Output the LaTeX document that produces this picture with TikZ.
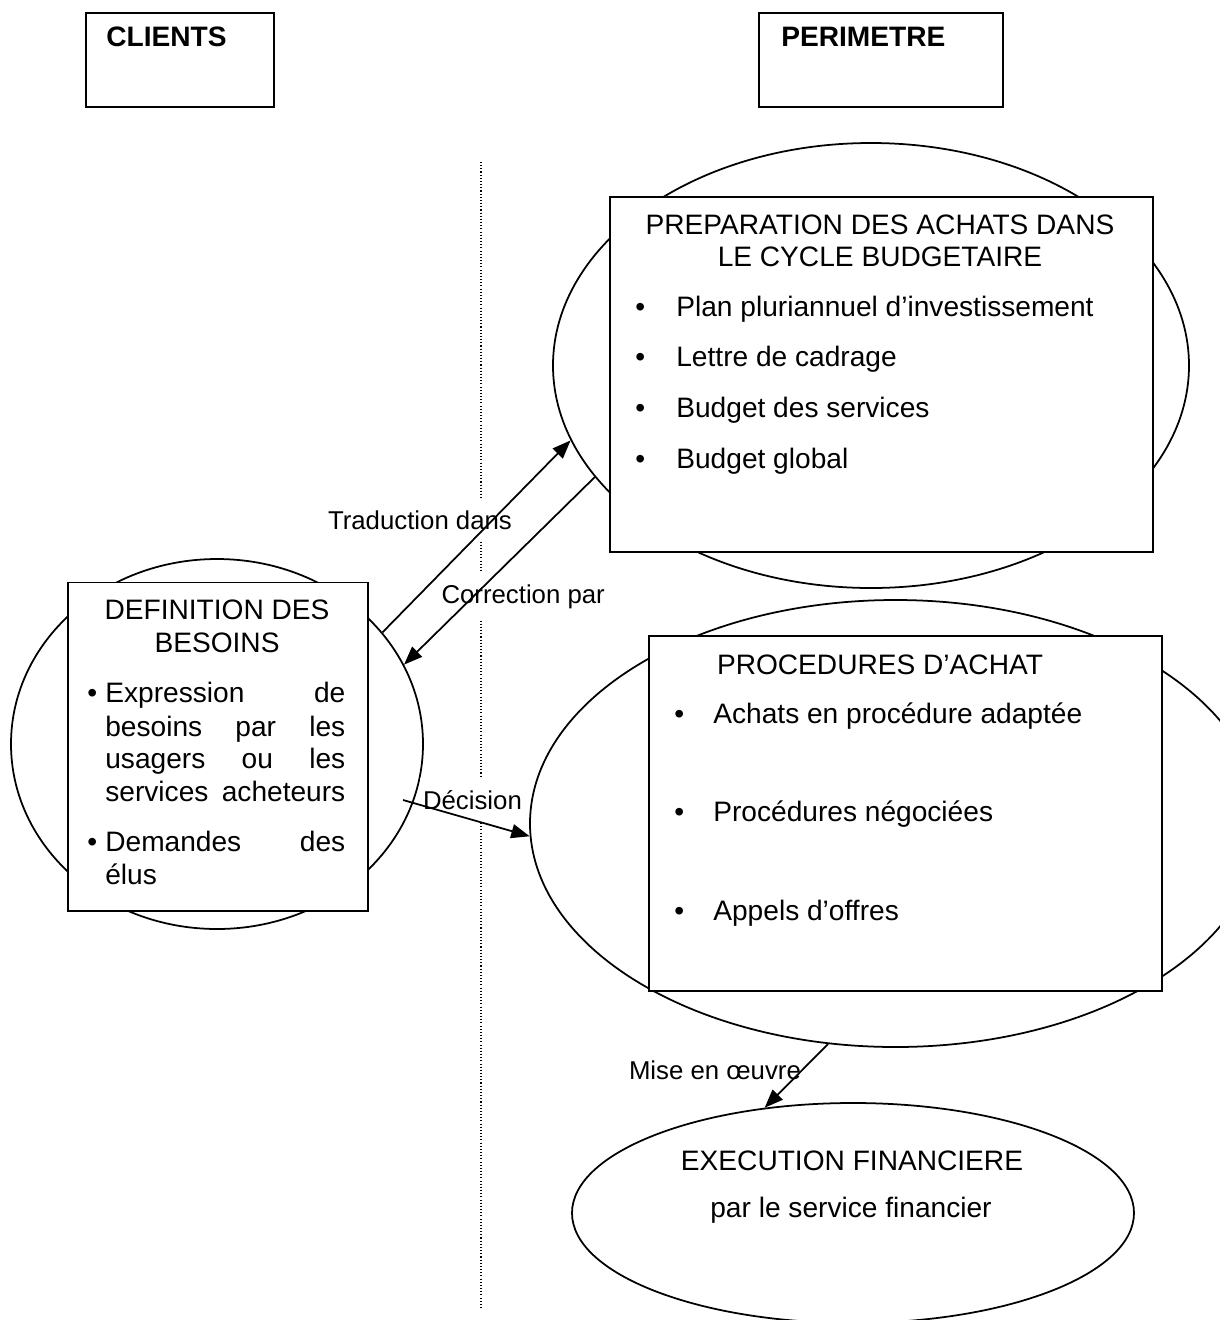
\documentclass[tikz,border=0pt]{standalone}
\usepackage{fontspec}
\setmainfont{Liberation Sans}
\usetikzlibrary{shapes.geometric,arrows.meta}

\begin{document}
\begin{tikzpicture}[
    txt/.style={font=\fontsize{16}{19}\selectfont, inner sep=0pt, anchor=base west},
    ttl/.style={font=\fontsize{16}{19}\selectfont, inner sep=0pt, anchor=base},
    lbl/.style={font=\fontsize{14.67}{17}\selectfont, fill=white, inner xsep=2pt, inner ysep=7pt, outer sep=0pt, anchor=base west},
    cadre/.style={draw, fill=white, line width=1pt, inner sep=0pt, anchor=north west},
    bulle/.style={draw, ellipse, line width=1pt, inner sep=0pt},
    fleche/.style={-{Triangle[length=10.5pt,width=8pt]}, line width=1pt}
  ]
    \useasboundingbox (0,0) rectangle (24.4,-26.4);

    % separation clients / perimetre
    \coordinate (haut) at (9.62,-3.24);
    \coordinate (bas) at (9.62,-26.2);
    \draw[line width=0.7pt, dash pattern=on 0.6pt off 1.2pt] (haut) -- (bas);

    % ellipses
    \node[bulle, minimum width=12.72cm, minimum height=8.90cm] (ellprepa) at (17.42,-7.31) {};
    \node[bulle, minimum width=8.24cm, minimum height=7.40cm] (elldefin) at (4.34,-14.88) {};
    \node[bulle, minimum width=14.62cm, minimum height=8.94cm] (ellproc) at (17.91,-16.47) {};
    \node[bulle, minimum width=11.24cm, minimum height=4.40cm] (ellexec) at (17.06,-24.26) {};

    % cadres
    \node[cadre, minimum width=3.76cm, minimum height=1.88cm] (clients) at (1.70,-0.24) {};
    \node[cadre, minimum width=4.88cm, minimum height=1.88cm] (perim) at (15.16,-0.24) {};
    \node[cadre, minimum width=10.86cm, minimum height=7.10cm] (prepa) at (12.18,-3.92) {};
    \node[cadre, minimum width=6.00cm, minimum height=6.57cm] (defin) at (1.34,-11.63) {};
    \node[cadre, minimum width=10.26cm, minimum height=7.10cm] (proced) at (12.96,-12.70) {};

    \node[txt] (tclients) at (2.12,-0.934) {\bfseries CLIENTS};
    \node[txt] (tperim) at (15.62,-0.934) {\bfseries PERIMETRE};

    % preparation
    \node[ttl] (tprepa1) at (17.60,-4.68) {PREPARATION DES ACHATS DANS};
    \node[ttl] (tprepa2) at (17.60,-5.32) {LE CYCLE BUDGETAIRE};
    \node[txt] (pp1) at (12.70,-6.32) {\textbullet};
    \node[txt] (p1) at (13.52,-6.32) {Plan pluriannuel d’investissement};
    \node[txt] (pp2) at (12.70,-7.32) {\textbullet};
    \node[txt] (p2) at (13.52,-7.32) {Lettre de cadrage};
    \node[txt] (pp3) at (12.70,-8.34) {\textbullet};
    \node[txt] (p3) at (13.52,-8.34) {Budget des services};
    \node[txt] (pp4) at (12.70,-9.36) {\textbullet};
    \node[txt] (p4) at (13.52,-9.36) {Budget global};

    % definition des besoins
    \node[ttl] (tdefin1) at (4.34,-12.38) {DEFINITION DES};
    \node[ttl] (tdefin2) at (4.34,-13.04) {BESOINS};
    \node[txt] (dd1) at (1.74,-14.05) {\textbullet};
    \node[txt] (d1) at (2.10,-14.05) {\makebox[4.80cm][s]{Expression de}};
    \node[txt] (d2) at (2.10,-14.72) {\makebox[4.80cm][s]{besoins par les}};
    \node[txt] (d3) at (2.10,-15.36) {\makebox[4.80cm][s]{usagers ou les}};
    \node[txt] (d4) at (2.10,-16.03) {\makebox[4.80cm][s]{services acheteurs}};
    \node[txt] (dd2) at (1.74,-17.03) {\textbullet};
    \node[txt] (d5) at (2.10,-17.03) {\makebox[4.80cm][s]{Demandes des}};
    \node[txt] (d6) at (2.10,-17.68) {élus};

    % procedures
    \node[ttl] (tproc) at (17.60,-13.48) {PROCEDURES D’ACHAT};
    \node[txt] (qq1) at (13.48,-14.46) {\textbullet};
    \node[txt] (q1) at (14.26,-14.46) {Achats en procédure adaptée};
    \node[txt] (qq2) at (13.48,-16.42) {\textbullet};
    \node[txt] (q2) at (14.26,-16.42) {Procédures négociées};
    \node[txt] (qq3) at (13.48,-18.40) {\textbullet};
    \node[txt] (q3) at (14.26,-18.40) {Appels d’offres};

    % execution
    \node[ttl] (texec1) at (17.04,-23.40) {EXECUTION FINANCIERE};
    \node[ttl] (texec2) at (17.02,-24.34) {par le service financier};

    % etiquettes
    \node[lbl] (ltrad) at (6.49,-10.58) {Traduction dans};
    \node[lbl] (lcorr) at (8.76,-12.06) {Correction par};
    \node[lbl] (ldec) at (8.39,-16.18) {Décision};
    \node[lbl] (lmise) at (12.51,-21.58) {Mise en œuvre};

    % fleches
    \draw[fleche] (elldefin.34.6) -- (ellprepa.194.7);
    \draw[fleche] (ellprepa.202.2) -- (elldefin.23.2);
    \coordinate (depdec) at (8.06,-16.00);
    \draw[fleche] (depdec) -- (ellproc.182);
    \draw[fleche] (ellproc.253.2) -- (ellexec.130);
\end{tikzpicture}
\end{document}
